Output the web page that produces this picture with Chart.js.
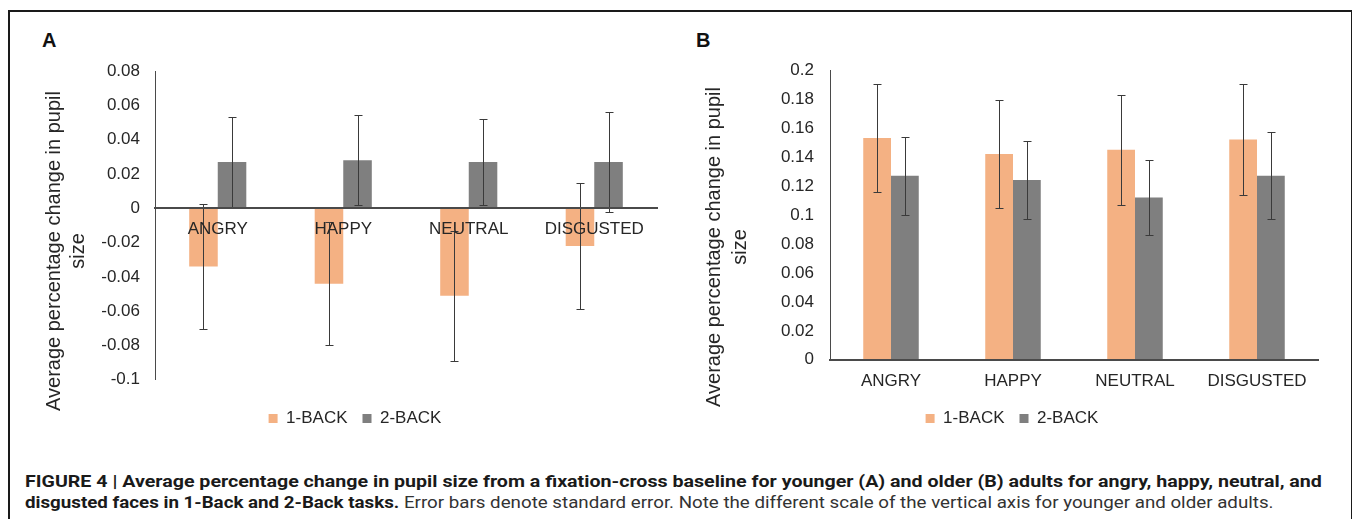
<!DOCTYPE html>
<html>
<head>
<meta charset="utf-8">
<script src="https://cdn.jsdelivr.net/npm/chart.js@4.4.1/dist/chart.umd.min.js"></script>
<style>
  body { margin: 0; background: #fff; width: 1352px; height: 519px; overflow: hidden; position: relative; font-family: Arial, "Liberation Sans", sans-serif; }
  #frame { position: absolute; left: 8px; top: 10px; width: 1341px; height: 600px; border: 2px solid #1a1a1a; }
  .panel { position: absolute; top: 0; }
  .tag { position: absolute; top: 29px; font-weight: bold; font-size: 20px; color: #111; }
  .cap { position: absolute; left: 25px; font-family: Roboto, sans-serif; font-size: 17px; line-height: 20px; white-space: nowrap; transform-origin: 0 50%; color: #333; }
  .cap b { color: #1a1a1a; }
</style>
</head>
<body>
<div id="frame"></div>
<div class="tag" style="left:42px">A</div>
<div class="tag" style="left:696px">B</div>
<canvas id="chartA" class="panel" style="left:0" width="680" height="440"></canvas>
<canvas id="chartB" class="panel" style="left:680px" width="672" height="440"></canvas>
<div class="cap" id="cap1" style="top:471px"><b>FIGURE 4 | Average percentage change in pupil size from a fixation-cross baseline for younger (A) and older (B) adults for angry, happy, neutral, and</b></div>
<div class="cap" id="cap2" style="top:492px"><b>disgusted faces in 1-Back and 2-Back tasks.</b> Error bars denote standard error. Note the different scale of the vertical axis for younger and older adults.</div>

<script>
const categories = ['ANGRY', 'HAPPY', 'NEUTRAL', 'DISGUSTED'];
const seriesNames = ['1-BACK', '2-BACK'];
const yTitleLines = ['Average percentage change in pupil', 'size'];

// panel A: younger adults
const youngOneBack = [-0.034, -0.044, -0.051, -0.022];
const youngTwoBack = [0.027, 0.028, 0.027, 0.027];
const youngOneBackErr = [0.0365, 0.036, 0.038, 0.037];
const youngTwoBackErr = [0.026, 0.0263, 0.025, 0.029];

// panel B: older adults
const oldOneBack = [0.153, 0.142, 0.145, 0.152];
const oldTwoBack = [0.127, 0.124, 0.112, 0.127];
const oldOneBackErr = [0.037, 0.037, 0.038, 0.038];
const oldTwoBackErr = [0.027, 0.027, 0.026, 0.030];

const orange = '#F4B183';
const grey = '#7F7F7F';
const ink = '#262626';

const errorBars = {
  id: 'errorBars',
  afterDatasetsDraw(chart, args, opts) {
    const ctx = chart.ctx;
    const y = chart.scales.y;
    ctx.save();
    ctx.strokeStyle = '#3a3a3a';
    ctx.lineWidth = 1;
    chart.data.datasets.forEach((ds, i) => {
      chart.getDatasetMeta(i).data.forEach((bar, j) => {
        const v = ds.data[j];
        const e = opts.errors[i][j];
        const top = Math.round(y.getPixelForValue(v + e)) + 0.5;
        const bot = Math.round(y.getPixelForValue(v - e)) + 0.5;
        const x = Math.round(bar.x) + 0.5;
        ctx.beginPath();
        ctx.moveTo(x, top); ctx.lineTo(x, bot);
        ctx.moveTo(x - 4, top); ctx.lineTo(x + 4, top);
        ctx.moveTo(x - 4, bot); ctx.lineTo(x + 4, bot);
        ctx.stroke();
      });
    });
    ctx.restore();
  }
};

const yTitle = {
  id: 'yTitle',
  afterDraw(chart, args, opts) {
    const ctx = chart.ctx;
    ctx.save();
    ctx.translate(opts.x, opts.y);
    ctx.rotate(-Math.PI / 2);
    ctx.font = '20px Arial, "Liberation Sans", sans-serif';
    ctx.fillStyle = ink;
    ctx.textAlign = 'center';
    ctx.textBaseline = 'middle';
    yTitleLines.forEach((t, i) => ctx.fillText(t, 0, i * opts.lineGap));
    ctx.restore();
  }
};

function tickText(v) {
  return String(Number(v.toFixed(2)));
}

function makePanel(canvas, one, two, oneErr, twoErr, cfg) {
  return new Chart(canvas, {
    type: 'bar',
    data: {
      labels: categories,
      datasets: [
        { label: seriesNames[0], data: one, backgroundColor: orange },
        { label: seriesNames[1], data: two, backgroundColor: grey }
      ]
    },
    options: {
      responsive: false,
      animation: false,
      categoryPercentage: 0.455,
      barPercentage: 1,
      layout: { padding: cfg.padding },
      scales: {
        x: {
          position: cfg.xPosition,
          afterFit(scale) { if (cfg.xHeight) scale.height = cfg.xHeight; },
          grid: { display: false, drawTicks: false },
          border: { display: true, color: '#4a4a4a', width: 2, z: 1 },
          ticks: { z: 1, color: ink, padding: cfg.xPad, maxRotation: 0, autoSkip: false, font: { family: 'Arial, "Liberation Sans", sans-serif', size: 17 } }
        },
        y: {
          min: cfg.min,
          max: cfg.max,
          afterFit(scale) { scale.width = cfg.yWidth; },
          grid: { display: false, drawTicks: false },
          border: { display: true, color: '#4a4a4a', width: 1 },
          ticks: { stepSize: 0.02, color: ink, padding: cfg.yPad, callback: tickText, font: { family: 'Arial, "Liberation Sans", sans-serif', size: 17 } }
        }
      },
      plugins: {
        tooltip: { enabled: false },
        legend: {
          position: 'bottom',
          title: { display: true, text: '', padding: cfg.legendGap / 2, font: { size: 1 } },
          labels: { boxWidth: 9, boxHeight: 9, padding: 15, color: ink, font: { family: 'Arial, "Liberation Sans", sans-serif', size: 17 } }
        },
        errorBars: { errors: [oneErr, twoErr] },
        yTitle: cfg.title
      }
    },
    plugins: [errorBars, yTitle]
  });
}

makePanel(document.getElementById('chartA'), youngOneBack, youngTwoBack, youngOneBackErr, youngTwoBackErr, {
  min: -0.1, max: 0.08,
  xPosition: { y: 0 },
  xPad: 11,
  yPad: 15,
  yWidth: 102,
  legendGap: 14,
  padding: { top: 71, left: 53, right: 23, bottom: 3 },
  title: { x: 54, y: 251, lineGap: 24 }
});

makePanel(document.getElementById('chartB'), oldOneBack, oldTwoBack, oldOneBackErr, oldTwoBackErr, {
  min: 0, max: 0.2,
  xPosition: 'bottom',
  xPad: 11,
  xHeight: 30,
  yPad: 16,
  yWidth: 124,
  legendGap: 4,
  padding: { top: 70, left: 26, right: 34, bottom: 3 },
  title: { x: 34, y: 247, lineGap: 26 }
});

// squeeze caption lines to the width they take in the figure
[['cap1', 1297], ['cap2', 1248]].forEach(([id, w]) => {
  const el = document.getElementById(id);
  el.style.transform = `scaleX(${w / el.offsetWidth})`;
});
</script>
</body>
</html>
